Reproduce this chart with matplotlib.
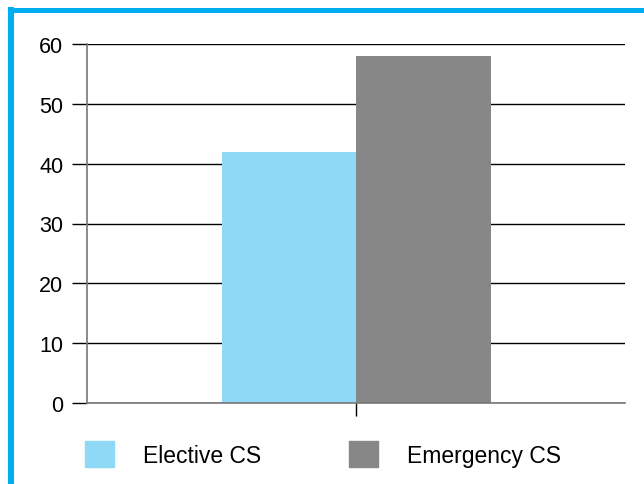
import matplotlib.pyplot as plt
from matplotlib.patches import Rectangle
from matplotlib.lines import Line2D

plt.rcParams['font.family'] = ['Liberation Sans', 'DejaVu Sans']

labels = ['Elective CS', 'Emergency CS']
values = [42, 58]
colors = ['#8FD9F6', '#878787']
yticks = [0, 10, 20, 30, 40, 50, 60]

fig = plt.figure(figsize=(6.44, 4.85), dpi=100)
ax = fig.add_axes([87/644, 81/485, 538/644, 359/485])

# two bars side by side around one category tick
ax.bar([-0.5, 0.5], values, width=1, color=colors, zorder=3)
ax.set_xlim(-2, 2)
ax.set_ylim(0, 60)
ax.set_yticks(yticks)
ax.set_xticks([0])
ax.set_xticklabels([''])
ax.yaxis.grid(True, color='black', linewidth=1, zorder=0)
ax.set_axisbelow(True)
ax.tick_params(axis='y', length=11, width=1, color='black', labelsize=15.5, pad=6)
ax.tick_params(axis='x', length=9, width=1, color='black')
for s in ['top', 'right']:
    ax.spines[s].set_visible(False)
for s in ['left', 'bottom']:
    ax.spines[s].set_color('#777777')
    ax.spines[s].set_linewidth(1.2)
ax.spines['bottom'].set_zorder(4)

# legend drawn by hand
W, H = 644, 485
leg_x = [85, 349]
for i, lab in enumerate(labels):
    fig.add_artist(Rectangle((leg_x[i]/W, 1 - 468/H), 29/W, 26/H,
                             transform=fig.transFigure, color=colors[i]))
    fig.text((leg_x[i] + 58)/W, 1 - 457/H, lab, fontsize=16.5, va='center', ha='left')

# blue frame on left and top
fig.add_artist(Line2D([11/W, 11/W], [0, 1 - 8/H], transform=fig.transFigure,
                      color='#00AEEF', linewidth=4.4, solid_capstyle='butt'))
fig.add_artist(Line2D([8/W, 1], [1 - 10.5/H, 1 - 10.5/H], transform=fig.transFigure,
                      color='#00AEEF', linewidth=3.6, solid_capstyle='butt'))

fig.savefig('out.png', dpi=100)
